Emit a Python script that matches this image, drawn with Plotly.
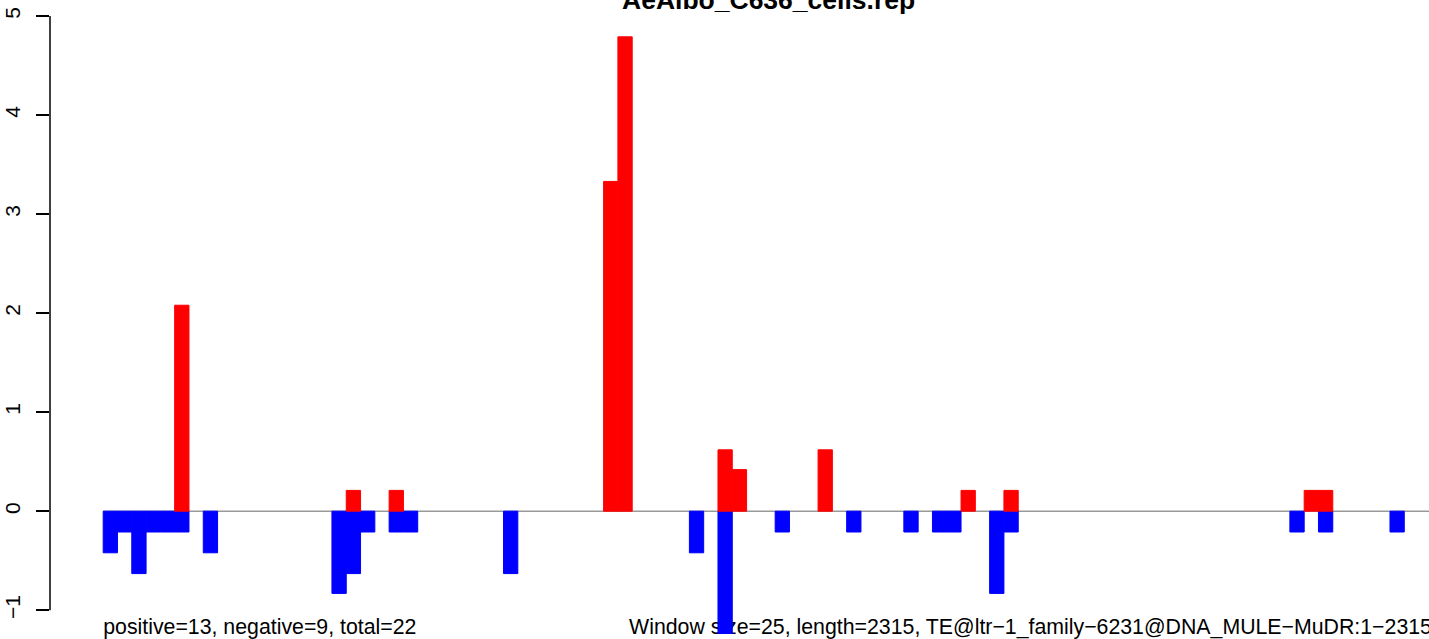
import plotly.graph_objects as go

# Window indices (window size 25 bp) and scaled values
neg_windows = [0, 1, 2, 3, 4, 5, 7, 16, 17, 18, 20, 21, 28, 41, 43, 47, 52, 56, 58, 59, 62, 63, 83, 85, 90]
neg_values = [-0.42, -0.21, -0.63, -0.21, -0.21, -0.21, -0.42, -0.83, -0.63, -0.21, -0.21, -0.21,
              -0.63, -0.42, -1.25, -0.21, -0.21, -0.21, -0.21, -0.21, -0.83, -0.21, -0.21, -0.21, -0.21]

pos_windows = [5, 17, 20, 35, 36, 43, 44, 50, 60, 63, 84, 85]
pos_values = [2.08, 0.21, 0.21, 3.33, 4.79, 0.62, 0.42, 0.62, 0.21, 0.21, 0.21, 0.21]

n_windows = 93
y_ticks = [-1, 0, 1, 2, 3, 4, 5]

title_text = "AeAlbo_C636_cells.rep"
left_note = "positive=13, negative=9, total=22"
right_note = "Window size=25, length=2315, TE@ltr\u22121_family\u22126231@DNA_MULE\u2212MuDR:1\u22122315"

FONT = "Liberation Sans, Arial, Helvetica, sans-serif"

xr = [-0.04 * n_windows, 92.73]
yr = [-1.24, 5.162]
note_y = -1.19
right_note_x = 36.78  # start of the right-hand note (text left edge)

fig = go.Figure()

# notes drawn in the base subplot so that bars (overlay subplot) cover them
fig.add_trace(go.Scatter(x=[0], y=[note_y], mode="text", text=[left_note],
                         textposition="middle right", cliponaxis=False,
                         textfont=dict(family=FONT, size=21.3, color="black"),
                         hoverinfo="skip", showlegend=False, xaxis="x", yaxis="y"))
fig.add_trace(go.Scatter(x=[right_note_x], y=[note_y], mode="text", text=[right_note],
                         textposition="middle right", cliponaxis=False,
                         textfont=dict(family=FONT, size=21.3, color="black"),
                         hoverinfo="skip", showlegend=False, xaxis="x", yaxis="y"))

fig.add_trace(go.Bar(x=neg_windows, y=neg_values, width=1, offset=0,
                     marker=dict(color="#0000FF", line=dict(width=1, color="#0000FF")),
                     showlegend=False, xaxis="x2", yaxis="y2"))
fig.add_trace(go.Bar(x=pos_windows, y=pos_values, width=1, offset=0,
                     marker=dict(color="#FF0000", line=dict(width=1, color="#FF0000")),
                     showlegend=False, xaxis="x2", yaxis="y2"))

fig.update_layout(
    width=1429, height=639,
    margin=dict(l=50, r=0, t=0, b=5),
    plot_bgcolor="white", paper_bgcolor="white",
    barmode="overlay",
    font=dict(family=FONT, size=21, color="black"),
    xaxis=dict(range=xr, visible=False, showgrid=False, zeroline=False),
    yaxis=dict(range=yr, tickvals=y_ticks, ticktext=[str(v).replace("-", "\u2212") for v in y_ticks],
               tickangle=-90, ticks="outside", ticklen=13, tickwidth=1.5, tickcolor="black",
               ticklabelstandoff=8,
               showline=False, showgrid=False, zeroline=False,
               tickfont=dict(family=FONT, size=21, color="black")),
    xaxis2=dict(range=xr, overlaying="x", visible=False, showgrid=False, zeroline=False),
    yaxis2=dict(range=yr, overlaying="y", visible=False, showgrid=False, zeroline=False),
    shapes=[
        dict(type="line", xref="paper", yref="y", x0=0, x1=0, y0=y_ticks[0], y1=y_ticks[-1],
             line=dict(color="black", width=1.5), layer="above"),
        dict(type="line", xref="x", yref="y", x0=0, x1=n_windows, y0=0, y1=0,
             line=dict(color="#999999", width=1.5), layer="below"),
    ],
    annotations=[
        dict(text="<b>" + title_text + "</b>", xref="paper", yref="paper",
             x=(768 - 50) / 1379, y=1.0, xanchor="center", yanchor="middle",
             showarrow=False, font=dict(family=FONT, size=26.5, color="black")),
    ],
)

fig.write_html("out.html", config={"displayModeBar": False},
               post_script="document.body.style.margin='0';document.body.style.overflow='hidden';")
